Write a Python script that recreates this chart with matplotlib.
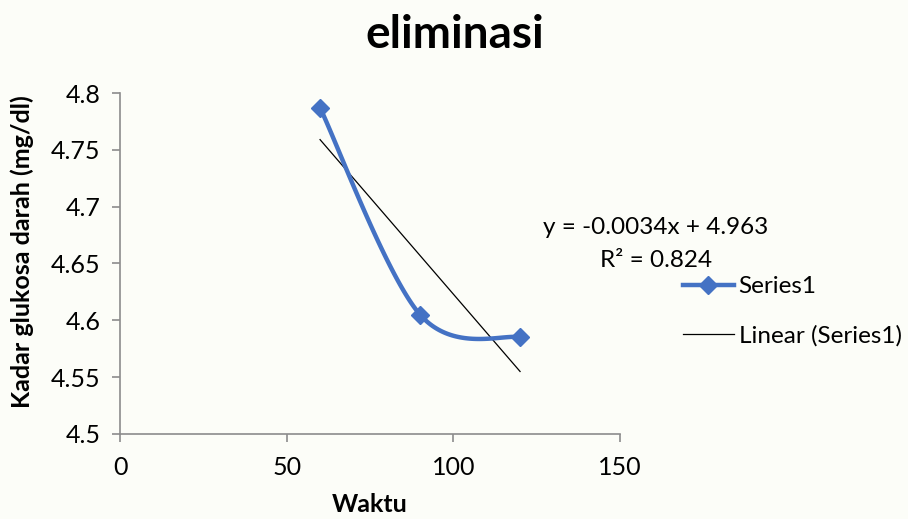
import numpy as np
import matplotlib
matplotlib.use('Agg')
import matplotlib.pyplot as plt
from matplotlib.lines import Line2D

plt.rcParams['font.family'] = ['Lato', 'DejaVu Sans']

waktu = [60, 90, 120]
kadar = [4.787, 4.605, 4.585]
x_ticks = [0, 50, 100, 150]
y_ticks = [4.5, 4.55, 4.6, 4.65, 4.7, 4.75, 4.8]

# linear trend line as reported on the chart
trend_slope = -0.0034
trend_icpt = 4.963
trend_r2 = 0.824

BLUE = '#4472c4'
AXIS = '#8c8c8c'
BG = '#fcfdf8'


def smooth_curve(xs, ys, sx, sy, n=60):
    # Excel-style smoothed line: cubic bezier segments with Catmull-Rom
    # control points, worked out in scaled (screen-like) coordinates
    p = np.column_stack([np.asarray(xs) * sx, np.asarray(ys) * sy])
    p = np.vstack([p[0], p, p[-1]])
    out = []
    t = np.linspace(0, 1, n)[:, None]
    for i in range(1, len(p) - 2):
        p0, p1, p2, p3 = p[i - 1], p[i], p[i + 1], p[i + 2]
        c1 = p1 + (p2 - p0) / 6.0
        c2 = p2 - (p3 - p1) / 6.0
        seg = ((1 - t) ** 3) * p1 + 3 * ((1 - t) ** 2) * t * c1 \
            + 3 * (1 - t) * t ** 2 * c2 + t ** 3 * p2
        out.append(seg)
    out = np.vstack(out)
    return out[:, 0] / sx, out[:, 1] / sy


fig = plt.figure(figsize=(9.08, 5.19), dpi=100, facecolor=BG)
ax = fig.add_axes([0.1322, 0.1638, 0.5507, 0.657])
ax.set_facecolor(BG)

# data line, smoothed like the spreadsheet chart
cx, cy = smooth_curve(waktu, kadar, 500 / 150, 341 / 0.3)
ax.plot(cx, cy, color=BLUE, lw=3.2, solid_capstyle='round', zorder=3)
ax.plot(waktu, kadar, ls='none', marker='D', ms=9, color=BLUE, zorder=4)

tx = np.array([waktu[0], waktu[-1]])
ax.plot(tx, trend_slope * tx + trend_icpt, color='black', lw=0.9, zorder=2)

ax.set_xlim(0, 150)
ax.set_ylim(4.5, 4.8)
ax.set_xticks(x_ticks)
ax.set_yticks(y_ticks)
ax.set_xticklabels([str(v) for v in x_ticks])
ax.set_yticklabels(['%g' % v for v in y_ticks])
for s in ['top', 'right']:
    ax.spines[s].set_visible(False)
for s in ['left', 'bottom']:
    ax.spines[s].set_color(AXIS)
    ax.spines[s].set_linewidth(1.2)
ax.tick_params(colors=AXIS, labelcolor='black', length=6, width=1.2,
               labelsize=18, direction='out')
ax.tick_params(axis='y', pad=8)
ax.tick_params(axis='x', pad=10)

ax.set_xlabel('Waktu', fontsize=18, fontweight='bold', va='center')
ax.xaxis.set_label_coords(0.5, -0.208)
ax.set_ylabel('Kadar glukosa darah (mg/dl)', fontsize=18, fontweight='bold',
              va='center')
ax.yaxis.set_label_coords(-0.196, 0.534)
fig.text(0.501, 0.932, 'eliminasi', ha='center', va='center',
         fontsize=33, fontweight='bold')

fig.text(0.7225, 0.561, 'y = %.4fx + %.3f' % (trend_slope, trend_icpt),
         ha='center', va='center', fontsize=17.5)
fig.text(0.7225, 0.499, 'R² = %.3f' % trend_r2, ha='center', va='center',
         fontsize=17.5)

handles = [Line2D([], [], color=BLUE, lw=3.2, marker='D', ms=9),
           Line2D([], [], color='black', lw=0.9)]
fig.legend(handles, ['Series1', 'Linear (Series1)'], loc='upper left',
           bbox_to_anchor=(0.752, 0.468), frameon=False, fontsize=17.5,
           handlelength=2.1, handletextpad=0.2, labelspacing=1.15,
           borderpad=0, borderaxespad=0)

fig.savefig('out.png', dpi=100, facecolor=BG)
